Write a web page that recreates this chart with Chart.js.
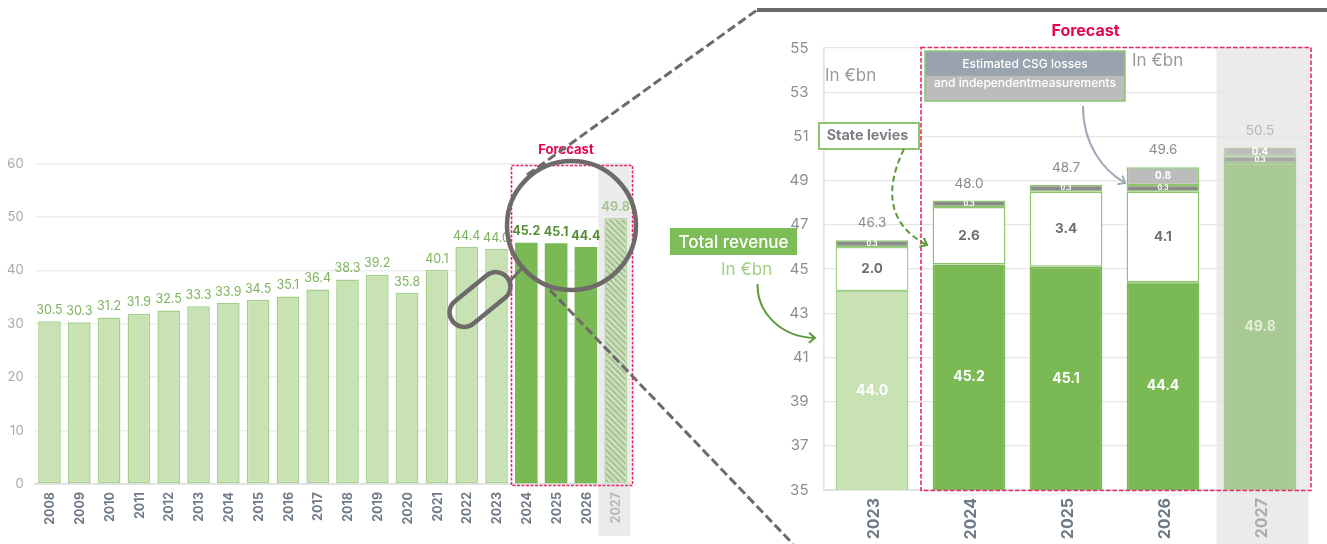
<!DOCTYPE html>
<html lang="en">
<head>
  <meta charset="UTF-8" />
  <title>Total revenue 2008-2027</title>
  <script src="https://cdn.jsdelivr.net/npm/chart.js"></script>
  <style>
    html, body { margin: 0; padding: 0; background: #fff; overflow: hidden; }
    #page { position: relative; width: 1327px; height: 544px; font-family: Inter, sans-serif; }
    canvas, svg { position: absolute; top: 0; }
    #overview { left: 0; }
    #zoomed { left: 780px; }
    svg { left: 0; pointer-events: none; }
  </style>
</head>
<body>
<div id="page">
  <canvas id="overview" width="640" height="544"></canvas>
  <canvas id="zoomed" width="547" height="544"></canvas>

  <svg width="1327" height="544" font-family="Inter, sans-serif">
    <defs>
      <marker id="headGreen" markerWidth="12" markerHeight="12" refX="9" refY="6" orient="auto" markerUnits="userSpaceOnUse">
        <path d="M3 1 L9 6 L3 11" fill="none" stroke="#5a9a3c" stroke-width="2" />
      </marker>
      <marker id="headBlue" markerWidth="12" markerHeight="12" refX="9" refY="6" orient="auto" markerUnits="userSpaceOnUse">
        <path d="M3 1 L9 6 L3 11" fill="none" stroke="#9eaab8" stroke-width="2" />
      </marker>
    </defs>

    <!-- forecast frames -->
    <rect x="511.5" y="165.5" width="121" height="320" fill="none" stroke="#e8286a" stroke-width="1.6" stroke-dasharray="3 1.5" />
    <rect x="921" y="47.5" width="390" height="443" fill="none" stroke="#e8286a" stroke-width="1.6" stroke-dasharray="4.5 2" />
    <text x="566" y="153.5" text-anchor="middle" font-size="13" font-weight="700" fill="#e6044f">Forecast</text>
    <text x="1085.5" y="35.5" text-anchor="middle" font-size="16" font-weight="700" fill="#e6044f">Forecast</text>

    <!-- magnifier -->
    <line x1="527" y1="175" x2="757" y2="10" stroke="#6f6a6a" stroke-width="3" stroke-dasharray="9 4" />
    <line x1="757" y1="10" x2="1327" y2="10" stroke="#6f6a6a" stroke-width="4" />
    <line x1="550" y1="290" x2="793" y2="544" stroke="#6f6a6a" stroke-width="3" stroke-dasharray="9 4" />
    <circle cx="571.5" cy="225.5" r="64.5" fill="none" stroke="#6f6a6a" stroke-width="4.5" />
    <line x1="510" y1="281" x2="523" y2="267" stroke="#6f6a6a" stroke-width="3" />
    <rect x="445" y="285" width="70" height="29" rx="14.5" transform="rotate(-39 480 299.5)" fill="none" stroke="#6f6a6a" stroke-width="4.5" />

    <!-- right panel notes -->
    <rect x="925" y="51" width="200" height="50" fill="#bcbcbc" stroke="#8cc56c" stroke-width="1.5" />
    <rect x="925.8" y="51.8" width="198.4" height="24" fill="#99a3b0" />
    <text x="1025" y="67.5" text-anchor="middle" font-size="12" font-weight="500" fill="#fff">Estimated CSG losses</text>
    <text x="1025" y="87" text-anchor="middle" font-size="12" font-weight="500" fill="#fff">and independentmeasurements</text>
    <text x="825" y="81" font-size="17" fill="#9a9a9a">In €bn</text>
    <text x="1132" y="66" font-size="17" fill="#9a9a9a">In €bn</text>

    <rect x="819" y="123" width="100" height="26" fill="#fff" stroke="#8cc56c" stroke-width="2" />
    <text x="867.5" y="139.5" text-anchor="middle" font-size="14.4" font-weight="700" fill="#7a7f86">State levies</text>
    <path d="M904 149 C884 190,888 225,927 245" fill="none" stroke="#5a9a3c" stroke-width="2" stroke-dasharray="6 3.5" marker-end="url(#headGreen)" />
    <path d="M1083 106 C1083 145,1103 170,1125 183" fill="none" stroke="#9eaab8" stroke-width="2" marker-end="url(#headBlue)" />

    <rect x="670" y="228" width="127" height="27" fill="#7cbd57" />
    <text x="733.5" y="247.5" text-anchor="middle" font-size="17" font-weight="500" fill="#fff">Total revenue</text>
    <text x="721" y="275" font-size="17" fill="#9fd086">In €bn</text>
    <path d="M757.5 284 C757 312,780 337,815 338" fill="none" stroke="#5a9a3c" stroke-width="2" marker-end="url(#headGreen)" />
  </svg>
</div>

<script>
  const years = ['2008','2009','2010','2011','2012','2013','2014','2015','2016','2017','2018','2019','2020','2021','2022','2023','2024','2025','2026','2027'];
  const revenue = [30.5,30.3,31.2,31.9,32.5,33.3,33.9,34.5,35.1,36.4,38.3,39.2,35.8,40.1,44.4,44.0,45.2,45.1,44.4,49.8];

  const zoomYears = ['2023','2024','2025','2026','2027'];
  const baseRevenue = [44.0,45.2,45.1,44.4,49.8];
  const stateLevies = [2.0,2.6,3.4,4.1,null];
  const csgMeasures = [0.3,0.3,0.3,0.3,0.3];
  const csgLosses = [null,null,null,0.8,0.4];
  const totals = ['46.3','48.0','48.7','49.6','50.5'];

  const FONT = 'Inter, sans-serif';
  const LIGHT = '#c8e2b4', LIGHT_EDGE = '#a4d08c', DARK = '#7ab954', EDGE = '#8cc56c', FADED = '#a9ca94';

  function hatch() {
    const c = document.createElement('canvas');
    c.width = c.height = 6;
    const g = c.getContext('2d');
    g.fillStyle = '#cfe0c3';
    g.fillRect(0, 0, 6, 6);
    g.strokeStyle = '#9fbf89';
    g.lineWidth = 1.6;
    g.beginPath();
    g.moveTo(-1, -1); g.lineTo(7, 7);
    g.moveTo(-4, 2); g.lineTo(2, 8);
    g.moveTo(2, -4); g.lineTo(8, 2);
    g.stroke();
    return g.createPattern(c, 'repeat');
  }

  // grey column behind the last category, runs down past the axis
  const bandPlugin = {
    id: 'band',
    beforeDraw(chart, args, opts) {
      const x = chart.scales.x, n = x.ticks.length - 1;
      const half = (x.getPixelForTick(1) - x.getPixelForTick(0)) / 2;
      const c = x.getPixelForTick(n);
      const left = c - half + opts.shift;
      chart.ctx.fillStyle = '#ebebeb';
      chart.ctx.fillRect(left, chart.chartArea.top, c + half - left, opts.bottom - chart.chartArea.top);
    }
  };

  // bar labels, there is no datalabels plugin here
  const labelPlugin = {
    id: 'barLabels',
    afterDatasetsDraw(chart, args, opts) {
      const ctx = chart.ctx;
      ctx.save();
      ctx.textAlign = 'center';
      ctx.textBaseline = 'middle';
      opts.draw(ctx, chart);
      ctx.restore();
    }
  };

  new Chart(document.getElementById('overview'), {
    type: 'bar',
    plugins: [bandPlugin, labelPlugin],
    data: {
      labels: years,
      datasets: [{
        data: revenue,
        barPercentage: 0.76,
        categoryPercentage: 1,
        borderWidth: years.map((y, i) => i > 15 && i < 19 ? 0 : 1.5),
        borderSkipped: false,
        backgroundColor: years.map((y, i) => i === 19 ? hatch() : i > 15 ? DARK : LIGHT),
        borderColor: years.map((y, i) => i === 19 ? '#bcd4aa' : i > 15 ? DARK : LIGHT_EDGE)
      }]
    },
    options: {
      responsive: false,
      animation: false,
      layout: { padding: { left: 0, right: 9.4, top: 163.6, bottom: 0 } },
      scales: {
        x: {
          afterFit: s => { s.height = 60; },
          grid: { display: false },
          border: { color: '#e2e2e2', width: 2 },
          ticks: {
            autoSkip: false, minRotation: 90, maxRotation: 90, padding: 0, labelOffset: 1,
            color: ctx => ctx.index === 19 ? '#b5b9bf' : '#6f7a88',
            font: { family: FONT, size: 12.5, weight: '700' }
          }
        },
        y: {
          min: 0, max: 60,
          afterFit: s => { s.width = 34.6; },
          border: { display: false },
          grid: { color: '#eeeeee', lineWidth: 1.5, drawTicks: false },
          ticks: { stepSize: 10, padding: 11, color: '#a5a8ac', font: { family: FONT, size: 13 } }
        }
      },
      plugins: {
        legend: { display: false },
        tooltip: { enabled: false },
        band: { bottom: 536, shift: -2.5 },
        barLabels: {
          draw(ctx, chart) {
            chart.getDatasetMeta(0).data.forEach((bar, i) => {
              const forecast = i > 15 && i < 19;
              ctx.font = (i > 15 ? '700 ' : '400 ') + '12.5px ' + FONT;
              ctx.fillStyle = i === 19 ? '#a6c492' : forecast ? '#578f38' : '#7cb45c';
              ctx.fillText(revenue[i].toFixed(1), bar.x, bar.y - 11);
            });
          }
        }
      }
    }
  });

  const edge = i => i === 4 ? FADED : EDGE;
  const common = { barPercentage: 0.75, categoryPercentage: 1, borderWidth: 1.5, borderSkipped: false, stack: 's' };

  new Chart(document.getElementById('zoomed'), {
    type: 'bar',
    plugins: [bandPlugin, labelPlugin],
    data: {
      labels: zoomYears,
      datasets: [
        Object.assign({}, common, {
          data: baseRevenue,
          backgroundColor: [LIGHT, DARK, DARK, DARK, FADED],
          borderColor: [LIGHT_EDGE, DARK, DARK, DARK, FADED]
        }),
        Object.assign({}, common, {
          data: stateLevies,
          backgroundColor: '#ffffff',
          borderColor: zoomYears.map((y, i) => i === 0 ? LIGHT_EDGE : EDGE)
        }),
        Object.assign({}, common, {
          data: csgMeasures,
          backgroundColor: ['#8a8a8a', '#8a8a8a', '#8a8a8a', '#8a8a8a', '#a5a8a5'],
          borderColor: zoomYears.map((y, i) => edge(i))
        }),
        Object.assign({}, common, {
          data: csgLosses,
          backgroundColor: ['#bcbcbc', '#bcbcbc', '#bcbcbc', '#bcbcbc', '#bdbebb'],
          borderColor: zoomYears.map((y, i) => i === 4 ? '#bdd0ae' : EDGE)
        })
      ]
    },
    options: {
      responsive: false,
      animation: false,
      layout: { padding: { left: 0, right: 18.5, top: 48, bottom: 0 } },
      scales: {
        x: {
          stacked: true,
          afterFit: s => { s.height = 54; },
          // only the two outer uprights of the frame, none between categories
          grid: {
            drawTicks: false, lineWidth: 1.5,
            color: ctx => ctx.index === undefined || ctx.index === 0 ? '#e6e6e6' : 'rgba(0,0,0,0)'
          },
          border: { color: '#e2e2e2', width: 2 },
          ticks: {
            autoSkip: false, minRotation: 90, maxRotation: 90, padding: 8, labelOffset: 2,
            color: ctx => ctx.index === 4 ? '#a8acb2' : '#6f7a88',
            font: { family: FONT, size: 16, weight: '700' }
          }
        },
        y: {
          stacked: true,
          min: 35, max: 55,
          afterFit: s => { s.width = 43.5; },
          border: { color: '#e6e6e6', width: 1.5 },
          grid: { color: '#e6e6e6', lineWidth: 1.2, drawTicks: false },
          ticks: { stepSize: 2, padding: 15, color: '#8a8f96', font: { family: FONT, size: 15 } }
        }
      },
      plugins: {
        legend: { display: false },
        tooltip: { enabled: false },
        band: { bottom: 544, shift: 5 },
        barLabels: {
          draw(ctx, chart) {
            // the stack starts at 0, far below this axis, so cut the base at the plot edge
            const mid = b => (b.y + Math.min(b.base, chart.chartArea.bottom)) / 2;
            const put = (text, font, color, x, y) => {
              ctx.font = font + ' ' + FONT;
              ctx.fillStyle = color;
              ctx.fillText(text, x, y);
            };
            chart.getDatasetMeta(0).data.forEach((b, i) => {
              put(baseRevenue[i].toFixed(1), '700 14px', i === 4 ? '#e3eedb' : '#ffffff', b.x, mid(b));
            });
            chart.getDatasetMeta(1).data.forEach((b, i) => {
              if (stateLevies[i] !== null) put(stateLevies[i].toFixed(1), '700 13.5px', '#6f6f6f', b.x, mid(b));
            });
            chart.getDatasetMeta(2).data.forEach((b, i) => {
              put(csgMeasures[i].toFixed(1), '700 7px', '#ffffff', b.x, mid(b));
            });
            chart.getDatasetMeta(3).data.forEach((b, i) => {
              if (csgLosses[i] !== null) put(csgLosses[i].toFixed(1), '700 10px', '#ffffff', b.x, mid(b));
            });
            // totals sit above whichever segment is on top
            zoomYears.forEach((y, i) => {
              const top = csgLosses[i] !== null ? chart.getDatasetMeta(3).data[i] : chart.getDatasetMeta(2).data[i];
              put(totals[i], '400 13.5px', i === 4 ? '#b5b5b5' : '#8a8a8a', top.x, top.y - 17);
            });
          }
        }
      }
    }
  });
</script>
</body>
</html>
